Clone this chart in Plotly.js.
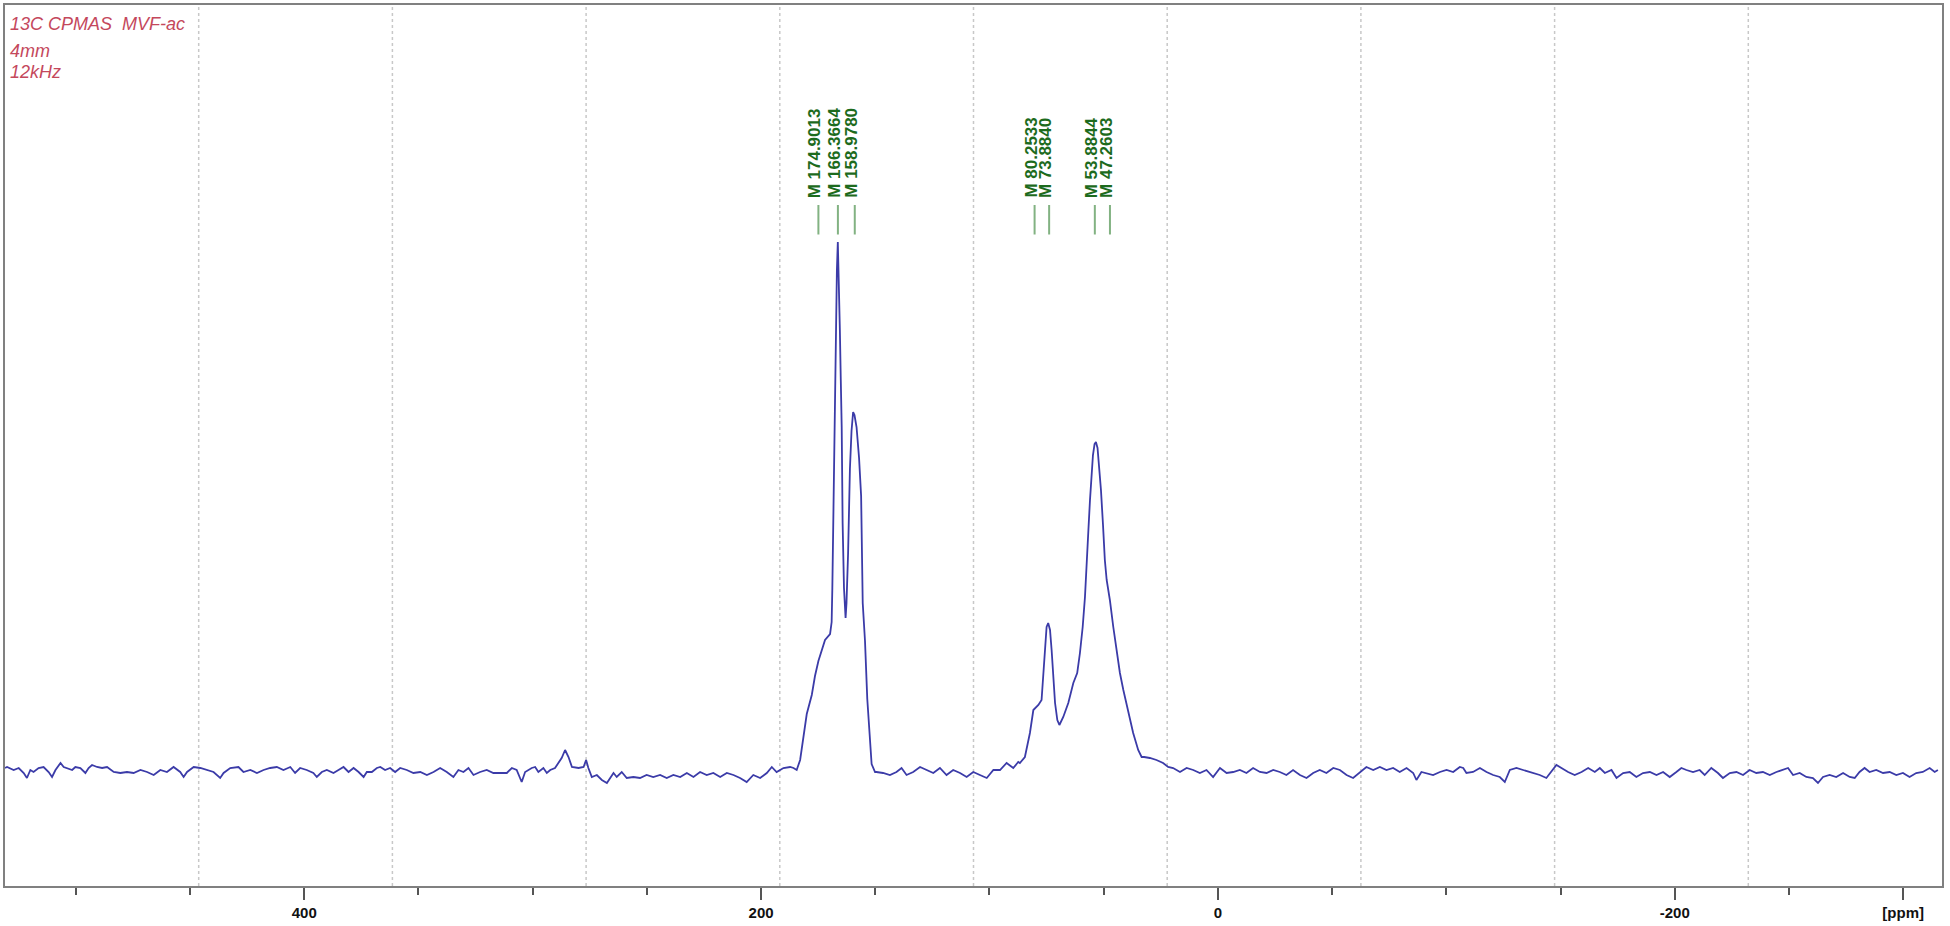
<!DOCTYPE html>
<html>
<head>
<meta charset="utf-8">
<script src="https://cdn.plot.ly/plotly-3.0.1.min.js"></script>
<style>html,body{margin:0;padding:0;background:#fff;}#chart{width:1950px;height:926px;}</style>
</head>
<body>
<div id="chart"></div>
<script>
// chemical shift (ppm)
const ppm = [531.0,530.1,527.2,525.0,522.8,521.4,519.9,518.5,516.3,514.1,511.9,510.4,508.9,506.7,505.3,503.8,501.6,500.2,498.0,495.8,494.4,492.9,490.7,488.5,486.3,483.4,480.5,477.6,474.7,471.7,468.8,465.9,463.0,460.1,457.2,454.3,452.8,451.3,448.4,445.5,442.6,439.7,436.8,435.3,432.4,430.2,428.8,426.6,423.6,420.7,417.8,414.9,412.0,409.1,406.1,404.0,401.8,398.9,396.0,394.5,392.3,390.1,387.2,385.0,382.8,380.6,378.4,376.2,374.0,372.6,370.4,368.2,366.7,364.6,362.4,360.2,358.0,355.1,352.2,349.2,346.3,343.4,340.5,337.6,334.7,332.5,330.3,328.1,325.9,323.0,320.1,317.2,314.2,311.3,309.1,307.0,304.8,303.3,300.4,298.9,297.5,295.3,293.8,292.3,290.2,288.7,287.3,285.8,284.3,282.8,279.9,277.7,276.6,275.6,274.1,271.9,269.7,267.5,266.1,264.6,263.2,261.0,258.8,255.9,253.0,250.1,247.2,244.2,241.3,238.4,235.4,232.5,229.6,226.7,223.8,220.9,217.9,215.0,212.1,209.2,206.3,203.4,200.4,197.5,195.3,193.2,190.2,187.3,185.8,184.4,182.9,181.5,180.0,177.8,176.4,174.9,173.4,172.0,169.8,169.1,168.8,168.3,167.9,167.2,166.8,166.4,166.0,165.5,165.1,164.7,164.3,163.7,163.0,162.6,161.9,161.1,160.4,159.7,159.1,158.2,157.1,156.2,155.5,154.5,153.5,152.3,151.6,150.1,149.5,146.6,143.6,140.7,138.5,136.3,133.4,130.4,127.5,124.6,121.7,118.8,115.9,112.9,110.0,107.1,104.2,101.2,98.3,95.4,92.5,89.6,87.4,86.7,84.5,82.3,80.8,78.6,77.2,76.4,75.7,75.0,74.3,73.5,72.8,72.1,71.3,70.3,69.4,67.7,65.5,63.3,61.6,60.4,59.2,58.2,57.2,56.7,56.0,55.4,54.7,54.0,53.4,52.7,52.1,51.2,50.3,49.5,48.7,47.3,45.8,44.3,42.9,41.4,39.2,37.1,34.9,33.4,32.3,29.8,26.9,24.0,21.8,19.6,16.6,13.7,10.8,7.9,5.0,2.1,-0.9,-3.8,-6.7,-9.6,-12.5,-15.4,-18.4,-21.3,-24.2,-27.1,-30.0,-32.9,-35.9,-38.8,-41.7,-44.6,-47.5,-50.5,-53.4,-56.3,-59.2,-62.1,-65.0,-68.0,-70.9,-73.8,-76.7,-79.6,-82.6,-85.5,-86.9,-89.1,-91.3,-94.2,-97.2,-100.1,-103.0,-105.9,-107.4,-108.8,-111.7,-114.7,-117.6,-120.5,-123.4,-125.6,-127.8,-130.7,-133.6,-136.5,-140.9,-143.8,-146.0,-148.2,-150.4,-153.3,-156.2,-159.2,-162.1,-165.0,-167.2,-169.4,-172.3,-174.5,-177.4,-180.3,-183.2,-186.1,-189.1,-192.0,-194.9,-197.8,-200.7,-202.9,-205.1,-208.0,-210.9,-213.1,-216.0,-218.9,-221.1,-224.1,-227.0,-229.9,-232.8,-235.7,-238.6,-241.6,-244.5,-247.4,-249.6,-251.8,-254.7,-257.6,-260.5,-262.7,-264.9,-267.8,-270.7,-273.7,-276.6,-278.8,-280.9,-283.1,-285.3,-288.2,-291.2,-294.1,-297.0,-299.9,-302.8,-305.7,-308.6,-311.6,-313.8,-315.2];

// intensity (arbitrary units)
const intensity = [2,3,0,2,-3,-8,0,-2,2,3,-2,-7,0,7,3,2,0,3,2,-3,2,5,3,2,3,-2,-3,-2,-3,0,-2,-5,0,-2,3,-2,-7,-2,3,2,0,-2,-8,-3,2,3,3,-2,0,-3,0,2,3,0,3,-3,2,0,-3,-7,-2,0,-3,0,3,-2,2,-2,-7,-2,-2,2,3,0,2,-2,2,0,-3,-2,-5,-2,2,-2,-7,0,-2,2,-5,-2,0,-3,-3,-3,2,0,-12,-2,2,3,-2,2,-3,0,2,7,12,20,13,3,2,3,10,2,-7,-5,-10,-13,-8,-3,-7,-2,-8,-7,-8,-5,-7,-5,-8,-5,-7,-3,-7,-2,-5,-3,-7,-3,-5,-8,-12,-5,-8,-3,3,-2,2,3,2,0,10,33,56,75,94,109,121,130,136,148,182,259,355,450,500,528,470,440,390,343,247,182,152,167,217,301,339,358,355,343,312,274,167,129,71,33,6,-2,-2,-3,-5,-2,2,-5,-2,3,0,-3,2,-5,0,-3,-7,-2,-5,-8,0,0,7,2,8,7,13,37,60,65,70,97,123,143,147,140,120,93,67,50,45,53,67,87,97,117,143,173,210,240,270,295,315,326,328,322,305,280,245,210,190,170,143,117,97,80,57,37,20,13,13,12,10,7,3,2,-2,2,0,-3,0,-7,2,-3,-2,0,-3,2,-2,-3,0,-2,-5,0,-5,-8,-3,0,-3,2,0,-5,-8,-2,3,0,3,0,2,-2,2,-3,-10,-2,-3,-5,-2,0,-2,3,2,-3,-2,2,-2,-5,-7,-12,0,2,0,-2,-5,-8,-2,5,2,-2,-5,-2,2,-2,2,-3,0,-8,-3,-2,-7,-3,-2,-5,-2,-7,-2,2,0,-2,0,-5,2,-3,-8,-3,-2,-5,0,-3,-2,-5,-2,0,2,-5,-3,-7,-8,-13,-7,-5,-7,-3,-7,-8,-2,2,-2,0,-3,-2,-5,-3,-7,-3,-2,2,-2,0];

// picked peaks (ppm)
const peakPicks = [174.9013, 166.3664, 158.9780, 80.2533, 73.8840, 53.8844, 47.2603];

// axis tick labels
const tickValues = [400, 200, 0, -200, -300];
const tickLabels = ['400', '200', '0', '-200', '[ppm]'];
const minorTickValues = [500, 450, 350, 300, 250, 150, 100, 50, -50, -100, -150, -250];

// header text
const headerLines = ['13C CPMAS\u00a0 MVF-ac', '4mm', '12kHz'];

const FONT = 'Liberation Sans, Arial, Helvetica, sans-serif';

const shapes = [];
for (let i = 1; i <= 9; i++) {
  shapes.push({type: 'line', xref: 'paper', yref: 'paper', x0: i / 10, x1: i / 10, y0: 0, y1: 1,
    line: {color: '#c8c8c8', width: 1.5, dash: 'dot'}, layer: 'below'});
}
peakPicks.forEach(v => {
  shapes.push({type: 'line', xref: 'x', yref: 'paper', x0: v, x1: v, y0: 0.7395, y1: 0.773,
    line: {color: '#82b282', width: 2}});
});

const annotations = [];
const headerY = [0.978, 0.9475, 0.9245];
headerLines.forEach((t, i) => {
  annotations.push({text: t, xref: 'paper', yref: 'paper', x: 0.0015, y: headerY[i],
    xanchor: 'left', yanchor: 'middle', showarrow: false,
    font: {family: FONT, size: 18, color: '#c4485c', style: 'italic'}});
});
peakPicks.forEach(v => {
  annotations.push({text: 'M ' + v.toFixed(4), xref: 'x', yref: 'paper', x: v, y: 0.7787,
    xanchor: 'center', yanchor: 'bottom', textangle: -90, showarrow: false, xshift: -3,
    font: {family: FONT, size: 17, color: '#1d6b1d', weight: 'bold'}});
});

const trace = {
  x: ppm, y: intensity, type: 'scatter', mode: 'lines',
  line: {color: '#3b3ba8', width: 1.8},
  hoverinfo: 'skip'
};

const layout = {
  width: 1950, height: 926,
  margin: {l: 5, r: 8, t: 5, b: 40},
  paper_bgcolor: '#ffffff', plot_bgcolor: '#ffffff',
  showlegend: false,
  xaxis: {
    range: [531, -317], tickmode: 'array', tickvals: tickValues, ticktext: tickLabels,
    ticks: 'outside', ticklen: 12, tickwidth: 2, tickcolor: '#555555',
    showline: true, linecolor: '#808080', linewidth: 2, mirror: true,
    showgrid: false, zeroline: false,
    tickfont: {family: FONT, size: 15, color: '#111111', weight: 'bold'},
    minor: {tickmode: 'array', tickvals: minorTickValues, ticks: 'outside', ticklen: 7, tickwidth: 2, tickcolor: '#555555', showgrid: false}
  },
  yaxis: {
    range: [-116, 765], showline: true, linecolor: '#808080', linewidth: 2, mirror: true,
    showticklabels: false, ticks: '', showgrid: false, zeroline: false
  },
  shapes: shapes,
  annotations: annotations
};

Plotly.newPlot('chart', [trace], layout, {displayModeBar: false, staticPlot: true});
</script>
</body>
</html>
